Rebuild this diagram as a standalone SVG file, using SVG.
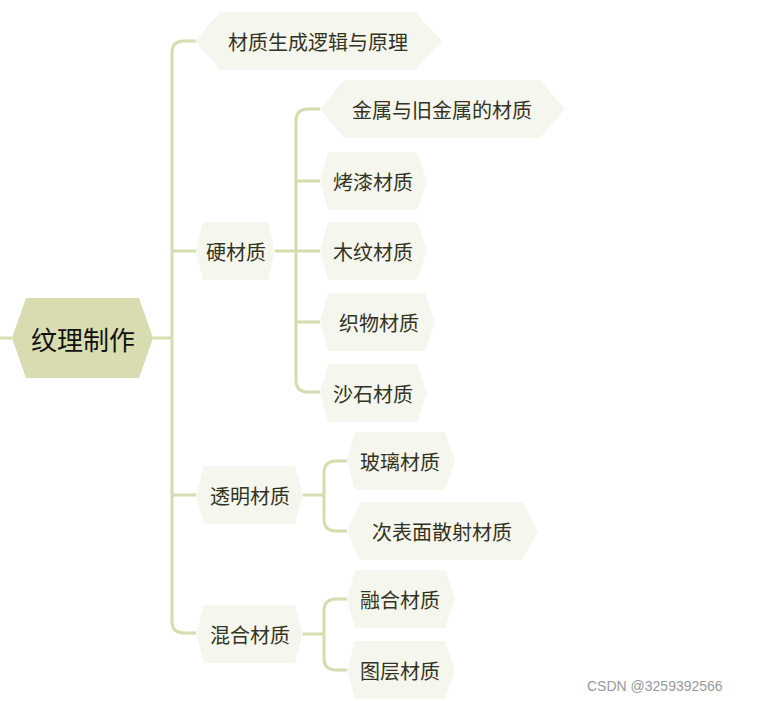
<svg xmlns="http://www.w3.org/2000/svg" width="761" height="701" viewBox="0 0 761 701">
<style>
.n{fill:#f5f6ee}
.r{fill:#d8dcb0}
.t{font-family:"Noto Sans CJK SC","Liberation Sans",sans-serif;font-size:20px;fill:#333322;dominant-baseline:central;text-anchor:middle}
.rt{font-size:26px;fill:#111}
.c{fill:none;stroke:#d6dcae;stroke-width:3}
</style>
<rect width="761" height="701" fill="#fff"/>
<g id="connectors">
<path class="c" d="M0 338H12"/>
<path class="c" d="M153 338H172"/>
<path class="c" d="M196 41H184Q172 41 172 53V621Q172 633 184 633H196"/>
<path class="c" d="M172 251H196"/>
<path class="c" d="M172 495H196"/>
<path class="c" d="M275 251H296"/>
<path class="c" d="M320 109H308Q296 109 296 121V380Q296 392 308 392H320"/>
<path class="c" d="M296 181H320M296 251H320M296 322H320"/>
<path class="c" d="M303 495H324"/>
<path class="c" d="M347 461H336Q324 461 324 473V519Q324 531 336 531H347"/>
<path class="c" d="M303 634H324"/>
<path class="c" d="M347 599H336Q324 599 324 611V658Q324 670 336 670H347"/>
</g>
<g id="root"><polygon class="r" points="12,338 26,298 139,298 153,338 139,378 26,378"/><text class="t rt" x="83" y="338">纹理制作</text></g>
<g id="n1"><polygon class="n" points="195,41 220,12 415,12 442,41 415,70 220,70"/><text class="t" x="318" y="41">材质生成逻辑与原理</text></g>
<g id="n2"><polygon class="n" points="196,251 203,222 268,222 275,251 268,280 203,280"/><text class="t" x="236" y="251">硬材质</text></g>
<g id="n3"><polygon class="n" points="320,109 344,80 540,80 565,109 540,138 344,138"/><text class="t" x="442" y="109">金属与旧金属的材质</text></g>
<g id="n4"><polygon class="n" points="320,181 328,152 417,152 427,181 417,210 328,210"/><text class="t" x="373" y="181">烤漆材质</text></g>
<g id="n5"><polygon class="n" points="320,251 328,222 417,222 427,251 417,280 328,280"/><text class="t" x="373" y="251">木纹材质</text></g>
<g id="n6"><polygon class="n" points="320,322 328,293 425,293 435,322 425,351 328,351"/><text class="t" x="379" y="322">织物材质</text></g>
<g id="n7"><polygon class="n" points="320,393 328,364 417,364 427,393 417,422 328,422"/><text class="t" x="373" y="393">沙石材质</text></g>
<g id="n8"><polygon class="n" points="196,495 204,466 295,466 303,495 295,524 204,524"/><text class="t" x="250" y="495">透明材质</text></g>
<g id="n9"><polygon class="n" points="347,461 355,432 445,432 455,461 445,490 355,490"/><text class="t" x="400" y="461">玻璃材质</text></g>
<g id="n10"><polygon class="n" points="347,531 360,502 522,502 538,531 522,560 360,560"/><text class="t" x="442" y="531">次表面散射材质</text></g>
<g id="n11"><polygon class="n" points="196,634 204,605 295,605 303,634 295,663 204,663"/><text class="t" x="250" y="634">混合材质</text></g>
<g id="n12"><polygon class="n" points="347,599 355,570 445,570 455,599 445,628 355,628"/><text class="t" x="400" y="599">融合材质</text></g>
<g id="n13"><polygon class="n" points="347,670 355,641 445,641 455,670 445,699 355,699"/><text class="t" x="400" y="670">图层材质</text></g>
<text x="587" y="691" style="font-family:'Liberation Sans',sans-serif;font-size:14px;fill:#999">CSDN @3259392566</text>
</svg>
